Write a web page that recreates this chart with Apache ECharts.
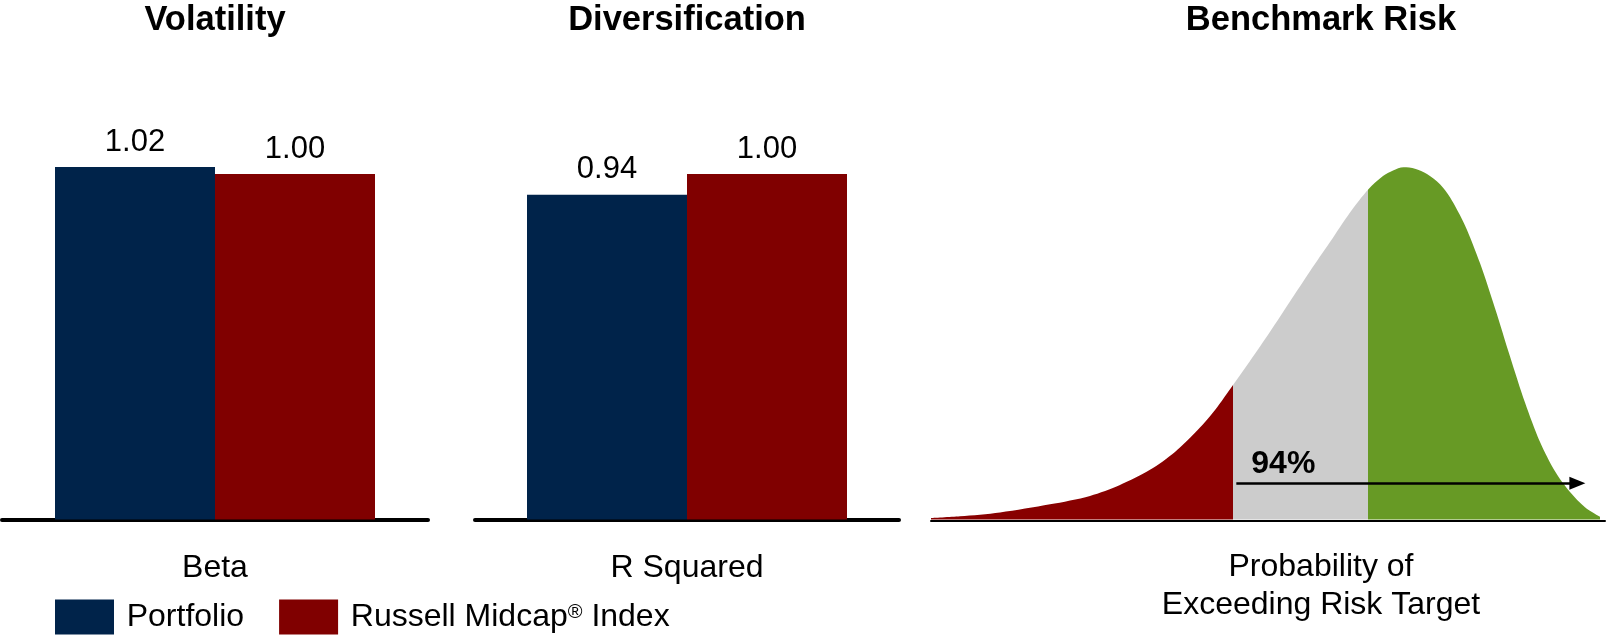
<!DOCTYPE html>
<html>
<head>
<meta charset="utf-8">
<title>Risk Profile</title>
<script src="https://cdn.jsdelivr.net/npm/echarts@6.0.0/dist/echarts.min.js"></script>
<style>
  html, body { margin: 0; padding: 0; background: #ffffff; }
  #chart { width: 1608px; height: 635px; }
</style>
</head>
<body>
<div id="chart"></div>
<script>
// ---- data ----
const panelTitles = ['Volatility', 'Diversification', 'Benchmark Risk'];
const metrics = ['Beta', 'R Squared'];
const seriesNames = ['Portfolio', 'Russell Midcap® Index'];
const portfolioValues = [1.02, 0.94];
const indexValues = [1.00, 1.00];

// return distribution: position along the return scale and relative density (peak = 1)
const distX = [0.0, 4.3, 10.24, 17.66, 23.59, 28.04, 32.49, 36.20, 39.17, 42.14, 44.81,
               47.33, 50.30, 53.26, 56.23, 59.20, 62.17, 64.90,
               67.06, 68.55, 70.10, 71.81, 73.59, 75.52, 77.00, 79.23, 81.45, 83.68,
               85.91, 88.13, 90.36, 92.58, 94.81, 97.03, 99.26];
const distY = [0.004, 0.009, 0.020, 0.043, 0.067, 0.098, 0.141, 0.192, 0.246, 0.311, 0.382,
               0.450, 0.533, 0.619, 0.705, 0.788, 0.872, 0.938,
               0.975, 0.991, 1.000, 0.996, 0.981, 0.952, 0.915, 0.835, 0.728, 0.600,
               0.463, 0.332, 0.220, 0.137, 0.078, 0.035, 0.008];
const riskBands = [44.81, 64.90];        // red | grey | green cut-offs
const arrowFrom = [45.3, 0.103];
const arrowTo = [95.9, 0.103];
const exceedProbability = '94%';
const riskCaption = 'Probability of\nExceeding Risk Target';

// ---- styling ----
const NAVY = '#00234A';
const MAROON = '#800000';
const TAIL_RED = '#880000';
const GREY = '#CCCCCC';
const GREEN = '#679A25';
const FONT = "'Liberation Sans', Arial, Helvetica, sans-serif";

const chart = echarts.init(document.getElementById('chart'), null, { renderer: 'canvas' });

const BASE_BOTTOM = 115.5;      // shared baseline of all three panels
const BAR_PX_PER_UNIT = 345.5;
const Y_MAX = 1.2;

const grids = [
  { left: 2,   width: 426, bottom: BASE_BOTTOM, height: Y_MAX * BAR_PX_PER_UNIT },
  { left: 475, width: 424, bottom: BASE_BOTTOM, height: Y_MAX * BAR_PX_PER_UNIT },
  { left: 931, width: 674, bottom: BASE_BOTTOM, height: Y_MAX * 352.2 }
];

const xAxes = metrics.map((m, i) => ({
  type: 'category',
  gridIndex: i,
  data: [m],
  offset: 2,
  axisLine: { show: true, lineStyle: { color: '#000', width: 4 } },
  axisTick: { show: false },
  axisLabel: { fontFamily: FONT, fontSize: 32, color: '#000', margin: 30.5 },
  splitLine: { show: false }
}));
xAxes.push({
  type: 'value',
  gridIndex: 2,
  min: 0,
  max: 100,
  offset: 1,
  axisLine: { show: true, onZero: false, lineStyle: { color: '#000', width: 2 } },
  axisTick: { show: false },
  axisLabel: { show: false },
  splitLine: { show: false }
});

const yAxes = [0, 1, 2].map(i => ({
  type: 'value',
  gridIndex: i,
  min: 0,
  max: Y_MAX,
  show: false,
  splitLine: { show: false }
}));

const valueLabel = {
  show: true,
  position: 'top',
  distance: 9.5,
  fontFamily: FONT,
  fontSize: 31,
  color: '#000',
  formatter: p => p.value.toFixed(2)
};

const series = [];
metrics.forEach((m, i) => {
  series.push({
    type: 'bar', name: seriesNames[0], xAxisIndex: i, yAxisIndex: i,
    data: [portfolioValues[i]], barWidth: 160, barGap: '0%',
    itemStyle: { color: NAVY }, label: valueLabel, silent: true
  });
  series.push({
    type: 'bar', name: seriesNames[1], xAxisIndex: i, yAxisIndex: i,
    data: [indexValues[i]], barWidth: 160, barGap: '0%',
    itemStyle: { color: MAROON }, label: valueLabel, silent: true
  });
});

const densityIndex = series.length;
series.push({
  type: 'line',
  name: 'Distribution',
  xAxisIndex: 2,
  yAxisIndex: 2,
  data: distX.map((x, i) => [x, distY[i]]),
  smooth: 0.3,
  symbol: 'none',
  lineStyle: { opacity: 0 },
  areaStyle: { opacity: 1 },
  silent: true,
  markLine: {
    silent: true,
    symbol: ['none', 'triangle'],
    symbolSize: [13, 16],
    lineStyle: { color: '#000', width: 2.5, type: 'solid' },
    label: {
      show: true,
      position: 'insideStartTop',
      distance: [15, 3],
      formatter: exceedProbability,
      fontFamily: FONT,
      fontSize: 32,
      fontWeight: 'bold',
      color: '#000'
    },
    emphasis: { disabled: true },
    data: [[{ coord: arrowFrom }, { coord: arrowTo }]]
  }
});

const titleCenters = [215, 687, 1321];
const titles = panelTitles.map((t, i) => ({
  text: t,
  left: titleCenters[i],
  top: 3.5,
  padding: 0,
  textAlign: 'center',
  textStyle: { fontFamily: FONT, fontSize: 34.5, fontWeight: 'bold', color: '#000', lineHeight: 34.5 }
}));
titles.push({
  text: riskCaption,
  left: 1321,
  top: 547.5,
  padding: 0,
  textAlign: 'center',
  textStyle: { fontFamily: FONT, fontSize: 32, fontWeight: 'normal', color: '#000', lineHeight: 38.5 }
});

chart.setOption({
  backgroundColor: '#ffffff',
  animation: false,
  title: titles,
  grid: grids,
  xAxis: xAxes,
  yAxis: yAxes,
  visualMap: {
    show: false,
    type: 'piecewise',
    seriesIndex: densityIndex,
    dimension: 0,
    pieces: [
      { lt: riskBands[0], color: TAIL_RED },
      { gte: riskBands[0], lt: riskBands[1], color: GREY },
      { gte: riskBands[1], color: GREEN }
    ]
  },
  legend: {
    data: seriesNames,
    left: 55,
    top: 599.5,
    padding: 0,
    icon: 'rect',
    itemWidth: 59,
    itemHeight: 35,
    itemGap: 35,
    selectedMode: false,
    formatter: name => name.replace('®', '{sup|®}'),
    textStyle: {
      fontFamily: FONT,
      fontSize: 32,
      color: '#000',
      padding: [0, 0, 0, 7.7],
      rich: {
        sup: { fontFamily: FONT, fontSize: 20, color: '#000', verticalAlign: 'top', padding: [1, 0, 0, 0] }
      }
    }
  },
  series: series
});
</script>
</body>
</html>
